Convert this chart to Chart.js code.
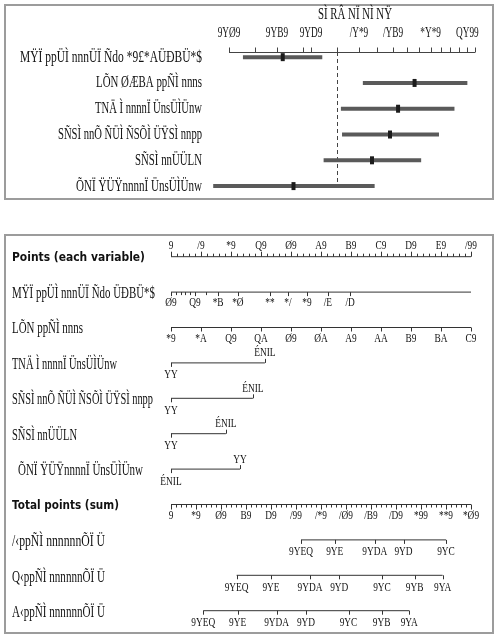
<!DOCTYPE html>
<html><head><meta charset="utf-8">
<script src="https://cdn.jsdelivr.net/npm/chart.js@4.4.1/dist/chart.umd.min.js"></script>
<style>
html,body{margin:0;padding:0;background:#fff;width:498px;height:637px;overflow:hidden}
.panel{position:absolute;box-sizing:border-box;border:2px solid #9c9c9c}
canvas{position:absolute;left:0;top:0}
</style></head><body>
<div class="panel" style="left:4px;top:4px;width:490px;height:196px"></div>
<div class="panel" style="left:4px;top:234px;width:490px;height:400px"></div>
<canvas id="forest" width="498" height="637"></canvas>
<canvas id="nomo" width="498" height="637"></canvas>
<script>
// ---------------- DATA ----------------
// Forest plot (top panel)
const forestTitle = 'SÌ RÂ NÏ NÌ NŸ';
const forestRowNames = [
  'MŸÏ ppÜÌ nnnÜÏ Ñdo *9£*AÜĐBÜ*$',
  'LÕN ØÆBA ppÑÌ nnns',
  'TNÄ Ì nnnnÏ ÜnsÜÌÜnw',
  'SÑSÌ nnÕ ÑÜÌ ÑSÕÌ ÜŸSÌ nnpp',
  'SÑSÌ nnÜÜLN',
  'ÕNÏ ŸÜŸnnnnÏ ÜnsÜÌÜnw'
];
const hrEstimate = [0.63, 1.92, 1.67, 1.56, 1.34, 0.69];
const hrLower    = [0.45, 1.24, 1.03, 1.04, 0.89, 0.35];
const hrUpper    = [0.88, 3.00, 2.69, 2.36, 2.03, 1.37];
const forestTicks = [0.4, 0.5, 0.6, 0.75, 0.8, 1, 1.2, 1.4, 1.6, 1.8, 2, 2.2, 2.4, 2.6, 2.8, 3, 3.2];
const forestTickLabels = [0.4, 0.6, 0.8, 1.2, 1.6, 2.2, 3.0];
const forestRange = [0.4, 3.2];
const referenceHR = 1;

// Nomogram (bottom panel)
const pointsLabel = 'Points (each variable)';
const totalLabel = 'Total points (sum)';
const nomoRowNames = [
  'MŸÏ ppÜÌ nnnÜÏ Ñdo ÜĐBÜ*$',
  'LÕN ppÑÌ nnns',
  'TNÄ Ì nnnnÏ ÜnsÜÌÜnw',
  'SÑSÌ nnÕ ÑÜÌ ÑSÕÌ ÜŸSÌ nnpp',
  'SÑSÌ nnÜÜLN',
  'ÕNÏ ŸÜŸnnnnÏ ÜnsÜÌÜnw'
];
const riskRowNames = ['/‹ppÑÌ nnnnnnÕÏ Ü', 'Q‹ppÑÌ nnnnnnÕÏ Ü', 'A‹ppÑÌ nnnnnnÕÏ Ü'];
const pointsTicks = [0, 10, 20, 30, 40, 50, 60, 70, 80, 90, 100];
const var1Values = [40, 30, 26, 24, 22, 21, 20, 19, 18];
const var1Points = [0, 8, 15.7, 22.3, 33, 39, 45.3, 52.3, 59.7];
const var1MinorPoints = [1.7, 3.2, 4.7, 6.2, 11.7];
const var2Values = [20, 25, 30, 35, 40, 45, 50, 55, 60, 65, 70];
const var2Points = [0, 10, 20, 30, 40, 50, 60, 70, 80, 90, 100];
const catLowLabel  = ['YY', 'YY', 'YY', 'ÉNIL'];
const catHighLabel = ['ÉNIL', 'ÉNIL', 'ÉNIL', 'YY'];
const catPoints = [31.3, 27.3, 18.3, 23];
const totalTicks = [0, 20, 40, 60, 80, 100, 120, 140, 160, 180, 200, 220, 240];
const survProbs = [0.93, 0.9, 0.85, 0.8, 0.7, 0.6, 0.5];
const surv1Points = [104, 131, 163, 186, 220];
const surv3Points = [52.5, 80, 111.2, 134.6, 168.8, 194.9, 217.3];
const surv5Points = [25.8, 53.3, 84.5, 108, 142, 168.5, 190.6];

// ---------------- STYLE / LAYOUT ----------------
const TEXT = '#111', LINE = '#333';
const SERIF = '"Liberation Serif", "DejaVu Serif", serif';
const forestLabelWidth = [182, 106, 107, 144, 67, 126];
const nomoLabelWidth = [143, 71, 105, 141, 65, 125];
const nomoLabelX = [12, 12, 12, 12, 12, 18];

const GLYPH = {'0':'9','1':'/','2':'*','3':'Q','4':'Ø','5':'A','6':'B','7':'C','8':'D','9':'E','.':'Y'};
const glyph = s => String(s).split('').map(c => GLYPH[c] ?? c).join('');

function txt(ctx, s, x, y, o) {
  ctx.save();
  ctx.font = o.font;
  ctx.fillStyle = o.color || TEXT;
  ctx.textBaseline = 'middle';
  ctx.textAlign = 'left';
  const w = ctx.measureText(s).width;
  const sx = o.width ? o.width / w : (o.sx || 1);
  const dw = w * sx;
  const left = o.align === 'right' ? x - dw : (o.align === 'center' ? x - dw / 2 : x);
  ctx.translate(left, y);
  ctx.scale(sx, 1);
  ctx.fillText(s, 0, 0);
  ctx.restore();
}

// ---------------- FOREST ----------------
const forestDecor = {
  id: 'forestDecor',
  beforeDatasetsDraw(chart) {
    const {ctx, chartArea, scales: {x}} = chart;
    const px = Math.round(x.getPixelForValue(referenceHR)) + 0.5;
    ctx.save();
    ctx.strokeStyle = '#444'; ctx.lineWidth = 1; ctx.setLineDash([4, 3]);
    ctx.beginPath(); ctx.moveTo(px, chartArea.top); ctx.lineTo(px, chartArea.bottom); ctx.stroke();
    ctx.restore();
  },
  afterDraw(chart) {
    const {ctx, chartArea, scales: {x, y}} = chart;
    const top = chartArea.top + 0.5;
    ctx.save();
    ctx.strokeStyle = '#444'; ctx.lineWidth = 1;
    ctx.beginPath();
    ctx.moveTo(x.getPixelForValue(forestRange[0]), top);
    ctx.lineTo(x.getPixelForValue(forestRange[1]), top);
    ctx.stroke();
    forestTicks.forEach(v => {
      const px = Math.round(x.getPixelForValue(v)) + 0.5;
      ctx.beginPath(); ctx.moveTo(px, top); ctx.lineTo(px, top - 5); ctx.stroke();
    });
    ctx.restore();
    forestTickLabels.forEach(v => {
      txt(ctx, glyph(v.toFixed(2)), x.getPixelForValue(v), chartArea.top - 19,
          {font: '15px ' + SERIF, align: 'center', sx: 0.62});
    });
    const mid = (x.getPixelForValue(forestRange[0]) + x.getPixelForValue(forestRange[1])) / 2;
    txt(ctx, forestTitle, mid + 3, 15, {font: '17px ' + SERIF, align: 'center', width: 74});
    forestRowNames.forEach((n, i) => {
      txt(ctx, n, 202, y.getPixelForValue(i + 1), {font: '17px ' + SERIF, align: 'right', width: forestLabelWidth[i]});
    });
  }
};

const ciSets = hrEstimate.map((v, i) => ({
  data: [{x: hrLower[i], y: i + 1}, {x: hrUpper[i], y: i + 1}],
  showLine: true, borderColor: '#5a5a5a', borderWidth: 4, pointRadius: 0,
  clip: false, order: 2
}));
const estSet = {
  data: hrEstimate.map((v, i) => ({x: v, y: i + 1})),
  pointStyle: 'line', pointRotation: 90, pointRadius: 4,
  pointBorderWidth: 4, pointBorderColor: '#1c1c1c', pointBackgroundColor: '#1c1c1c',
  clip: false, order: 1
};

new Chart(document.getElementById('forest'), {
  type: 'scatter',
  data: {datasets: [...ciSets, estSet]},
  options: {
    responsive: false, animation: false, devicePixelRatio: 1,
    layout: {padding: {left: 229, right: 23, top: 52, bottom: 454}},
    scales: {
      x: {type: 'logarithmic', min: forestRange[0], max: forestRange[1], display: false},
      y: {type: 'linear', min: 0.8, max: 5.88, reverse: true, display: false}
    },
    plugins: {legend: {display: false}, tooltip: {enabled: false}}
  },
  plugins: [forestDecor]
});

// ---------------- NOMOGRAM ----------------
const ROW_POINTS = 0, ROW_TOTAL = 7, ROW_RISK = [8, 9, 10];
const riskPoints = [surv1Points, surv3Points, surv5Points];

const axisLine = (x0, x1, row, axis) => ({
  data: [{x: x0, y: row}, {x: x1, y: row}], xAxisID: axis,
  showLine: true, borderColor: LINE, borderWidth: 1, pointRadius: 0, clip: false
});
const nomoSets = [
  axisLine(0, 100, ROW_POINTS, 'x'),
  axisLine(0, 100, 1, 'x'),
  axisLine(var2Points[0], var2Points[var2Points.length - 1], 2, 'x'),
  ...catPoints.map((p, k) => axisLine(0, p, 3 + k, 'x')),
  axisLine(totalTicks[0], totalTicks[totalTicks.length - 1], ROW_TOTAL, 'x2'),
  ...riskPoints.map((arr, k) => axisLine(arr[0], arr[arr.length - 1], ROW_RISK[k], 'x2'))
];

const nomoDecor = {
  id: 'nomoDecor',
  afterDraw(chart) {
    const {ctx, scales: {x, x2, y}} = chart;
    const tick = (sc, p, row, len) => {
      const px = Math.round(sc.getPixelForValue(p)) + 0.5;
      const py = y.getPixelForValue(row);
      ctx.beginPath(); ctx.moveTo(px, py); ctx.lineTo(px, py + len); ctx.stroke();
    };
    const TF = {font: '13px ' + SERIF, align: 'center', sx: 0.72};
    ctx.save(); ctx.strokeStyle = LINE; ctx.lineWidth = 1;
    for (let p = 0; p <= 100; p += 2) tick(x, p, ROW_POINTS, p % 10 === 0 ? -5 : -3);
    var1Points.forEach(p => tick(x, p, 1, 4));
    var1MinorPoints.forEach(p => tick(x, p, 1, 3));
    var2Points.forEach(p => tick(x, p, 2, 4));
    catPoints.forEach((p, k) => { tick(x, 0, 3 + k, 4); tick(x, p, 3 + k, -4); });
    for (let p = 0; p <= 240; p += 4) tick(x2, p, ROW_TOTAL, p % 20 === 0 ? 5 : 3);
    riskPoints.forEach((arr, k) => arr.forEach(p => tick(x2, p, ROW_RISK[k], 4)));
    ctx.restore();

    pointsTicks.forEach(p => txt(ctx, glyph(p), x.getPixelForValue(p), y.getPixelForValue(ROW_POINTS) - 11, TF));
    var1Values.forEach((v, i) => txt(ctx, glyph(v), x.getPixelForValue(var1Points[i]), y.getPixelForValue(1) + 10, TF));
    var2Values.forEach((v, i) => txt(ctx, glyph(v), x.getPixelForValue(var2Points[i]), y.getPixelForValue(2) + 11, TF));
    catPoints.forEach((p, k) => {
      const py = y.getPixelForValue(3 + k);
      txt(ctx, catLowLabel[k], x.getPixelForValue(0), py + 12, TF);
      txt(ctx, catHighLabel[k], x.getPixelForValue(p), py - 10, TF);
    });
    totalTicks.forEach(p => txt(ctx, glyph(p), x2.getPixelForValue(p), y.getPixelForValue(ROW_TOTAL) + 11, TF));
    riskPoints.forEach((arr, k) => arr.forEach((p, i) =>
      txt(ctx, glyph(survProbs[i]), x2.getPixelForValue(p), y.getPixelForValue(ROW_RISK[k]) + 12, TF)));

    const BOLD = 'bold 12px "DejaVu Sans", sans-serif';
    txt(ctx, pointsLabel, 12, y.getPixelForValue(ROW_POINTS) + 1, {font: BOLD, width: 133});
    txt(ctx, totalLabel, 12, y.getPixelForValue(ROW_TOTAL) + 1, {font: BOLD, width: 107});
    nomoRowNames.forEach((n, i) => txt(ctx, n, nomoLabelX[i], y.getPixelForValue(1 + i) + 1.5,
      {font: '17px ' + SERIF, width: nomoLabelWidth[i]}));
    riskRowNames.forEach((n, k) => txt(ctx, n, 12, y.getPixelForValue(ROW_RISK[k]) + 2,
      {font: '17px ' + SERIF, width: 93}));
  }
};

new Chart(document.getElementById('nomo'), {
  type: 'scatter',
  data: {datasets: nomoSets},
  options: {
    responsive: false, animation: false, devicePixelRatio: 1,
    layout: {padding: {left: 171, right: 27, top: 256.7, bottom: 26.3}},
    scales: {
      x: {type: 'linear', min: 0, max: 100, display: false},
      x2: {type: 'linear', min: 0, max: 240, display: false},
      y: {type: 'linear', min: 0, max: 10, reverse: true, display: false}
    },
    plugins: {legend: {display: false}, tooltip: {enabled: false}}
  },
  plugins: [nomoDecor]
});
</script></body></html>
